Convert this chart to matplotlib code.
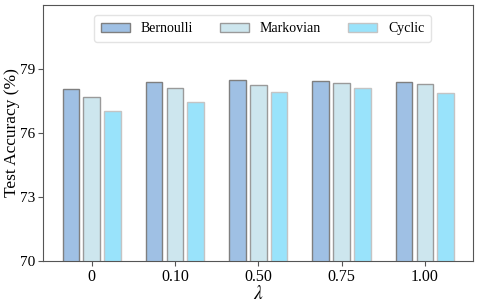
import numpy as np
import matplotlib
matplotlib.use('Agg')
import matplotlib.pyplot as plt

plt.rcParams['font.family'] = ['Liberation Serif', 'DejaVu Serif']
plt.rcParams['mathtext.fontset'] = 'stix'

# data
lambdas = ['0', '0.10', '0.50', '0.75', '1.00']
bernoulli = [78.06, 78.36, 78.45, 78.44, 78.36]
markovian = [77.70, 78.08, 78.23, 78.34, 78.28]
cyclic = [77.00, 77.42, 77.89, 78.12, 77.86]

series = [('Bernoulli', bernoulli, '#9fc0e4', '#7f7f7f'),
          ('Markovian', markovian, '#cde6ee', '#9a9a9a'),
          ('Cyclic', cyclic, '#99e3fb', '#c4c4c4')]

fig, ax = plt.subplots(figsize=(4.78, 3.03), dpi=100)
x = np.arange(len(lambdas))
w = 0.2
for i, (name, vals, col, ec) in enumerate(series):
    ax.bar(x + (i - 1) * 0.25, vals, width=w, color=col, edgecolor=ec,
           linewidth=1.0, label=name)

ax.set_ylim(70, 82)
ax.set_yticks([70, 73, 76, 79])
ax.set_xlim(-0.584, 4.58)
ax.set_xticks(x)
ax.set_xticklabels(lambdas)
ax.tick_params(labelsize=11.5, color='#555555', pad=2)
ax.tick_params(axis='y', labelsize=11)
ax.set_ylabel('Test Accuracy (%)', fontsize=12.5)
ax.yaxis.set_label_coords(-0.053, 0.5)
ax.set_xlabel(r'$\lambda$', fontsize=14, labelpad=0)
for s in ax.spines.values():
    s.set_color('#555555')

ax.legend(loc='upper center', ncol=3, fontsize=10, frameon=True,
          handlelength=2.1, columnspacing=1.9, borderpad=0.5,
          bbox_to_anchor=(0.51, 0.985), edgecolor='#dddddd', fancybox=True)

fig.subplots_adjust(left=0.09, right=0.99, top=0.985, bottom=0.138)
fig.savefig('out.png')
